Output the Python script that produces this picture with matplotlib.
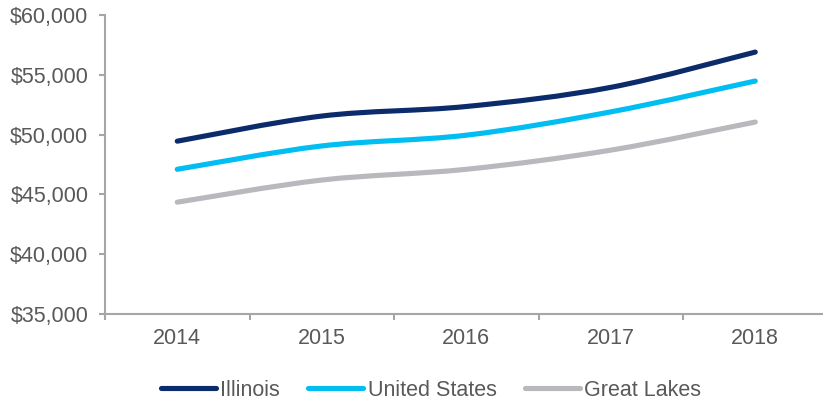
import matplotlib
matplotlib.use("Agg")
import matplotlib.pyplot as plt
from matplotlib.path import Path
from matplotlib.patches import PathPatch
from matplotlib.lines import Line2D
from matplotlib.ticker import FuncFormatter, FixedLocator
import numpy as np

years = ["2014", "2015", "2016", "2017", "2018"]
illinois = [49450, 51550, 52350, 53950, 56900]
united_states = [47100, 49050, 49950, 51900, 54480]
great_lakes = [44350, 46200, 47100, 48700, 51050]

series_names = ["Illinois", "United States", "Great Lakes"]
series_values = [illinois, united_states, great_lakes]
colors = ["#0B2B6B", "#00BDF2", "#B8B9BD"]

plt.rcParams["font.family"] = ["Liberation Sans", "DejaVu Sans"]
text_color = "#595959"
axis_color = "#A6A6A6"
fs = 15.5

fig = plt.figure(figsize=(8.23, 4.01), dpi=100)
fig.patch.set_facecolor("white")
ax = fig.add_axes([105 / 823, 87 / 401, 722.5 / 823, 299 / 401])
ax.set_facecolor("none")


def smooth_path(xs, ys, t=1 / 6):
    # Catmull-Rom style bezier smoothing (like spreadsheet smoothed lines)
    xs = np.asarray(xs, float)
    ys = np.asarray(ys, float)
    n = len(xs)
    verts = [(xs[0], ys[0])]
    codes = [Path.MOVETO]
    for i in range(n - 1):
        x0, y0 = (xs[i - 1], ys[i - 1]) if i > 0 else (xs[i], ys[i])
        x1, y1 = xs[i], ys[i]
        x2, y2 = xs[i + 1], ys[i + 1]
        x3, y3 = (xs[i + 2], ys[i + 2]) if i + 2 < n else (x2, y2)
        c1 = (x1 + (x2 - x0) * t, y1 + (y2 - y0) * t)
        c2 = (x2 - (x3 - x1) * t, y2 - (y3 - y1) * t)
        verts += [c1, c2, (x2, y2)]
        codes += [Path.CURVE4, Path.CURVE4, Path.CURVE4]
    return Path(verts, codes)


x = np.arange(len(years))
handles = []
for name, vals, col in zip(series_names, series_values, colors):
    p = smooth_path(x, vals)
    patch = PathPatch(p, facecolor="none", edgecolor=col, lw=3.7,
                      capstyle="round", joinstyle="round", zorder=3)
    ax.add_patch(patch)
    handles.append(Line2D([0], [0], color=col, lw=3.7, solid_capstyle="round"))

ax.set_xlim(-0.5, 4.5)
ax.set_ylim(35000, 60000)
ax.set_yticks(np.arange(35000, 60001, 5000))
ax.yaxis.set_major_formatter(FuncFormatter(lambda v, p: "${:,.0f}".format(v)))
ax.set_xticks(x)
ax.set_xticklabels(years)
ax.xaxis.set_minor_locator(FixedLocator(np.arange(-0.5, 5, 1)))

for s in ["top", "right"]:
    ax.spines[s].set_visible(False)
for s in ["left", "bottom"]:
    ax.spines[s].set_color(axis_color)
    ax.spines[s].set_linewidth(1.5)

ax.tick_params(axis="x", which="major", length=0, pad=10, labelsize=fs, labelcolor=text_color)
ax.tick_params(axis="x", which="minor", length=4, width=1.5, color=axis_color, direction="out")
ax.tick_params(axis="y", length=4, width=1.5, color=axis_color, pad=8, labelsize=fs, labelcolor=text_color)

leg = fig.legend(handles, series_names, loc="center", bbox_to_anchor=(431 / 823, 1 - 390 / 401),
                 ncol=3, frameon=False, fontsize=fs, handlelength=2.55, handletextpad=0.22,
                 columnspacing=1.3)
for t in leg.get_texts():
    t.set_color(text_color)

fig.savefig("out.png", dpi=100, facecolor="white")
